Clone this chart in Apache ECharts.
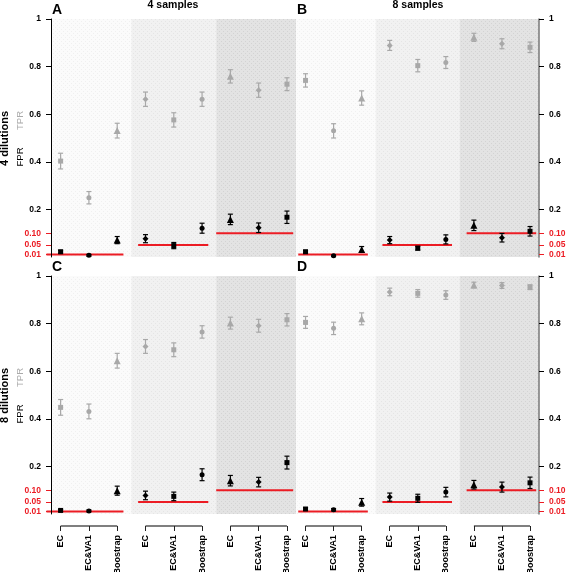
<!DOCTYPE html>
<html><head><meta charset="utf-8">
<script src="https://cdn.jsdelivr.net/npm/echarts@6/dist/echarts.min.js"></script>
<style>html,body{margin:0;padding:0;background:#fff}#c{width:567px;height:572px}</style>
</head><body><div id="c"></div>
<script>
// ---------- data ----------
const methods = ['EC', 'EC&VA1', 'Boostrap'];
const fdrLevels = [0.01, 0.05, 0.10];
const panelLetters = ['A', 'B', 'C', 'D'];
const sampleTitles = ['4 samples', '8 samples'];
const dilutionTitles = ['4 dilutions', '8 dilutions'];
const yTicksBlack = [0.2, 0.4, 0.6, 0.8, 1];
const yTicksRed = [0.01, 0.05, 0.10];
const markerShapes = ['rect', 'circle', 'triangle', 'diamond', 'rect', 'circle', 'triangle', 'diamond', 'rect'];

// Panel A: 4 dilutions, 4 samples
const tprA    = [0.403, 0.249, 0.531, 0.663, 0.576, 0.663, 0.759, 0.701, 0.726];
const tprErrA = [0.033, 0.026, 0.031, 0.030, 0.030, 0.030, 0.028, 0.030, 0.027];
const fprA    = [0.022, 0.007, 0.071, 0.077, 0.048, 0.121, 0.158, 0.123, 0.167];
const fprErrA = [0.006, 0.004, 0.015, 0.017, 0.013, 0.021, 0.022, 0.020, 0.026];
// Panel B: 4 dilutions, 8 samples
const tprB    = [0.742, 0.530, 0.668, 0.889, 0.804, 0.817, 0.923, 0.896, 0.881];
const tprErrB = [0.028, 0.030, 0.030, 0.021, 0.026, 0.025, 0.017, 0.021, 0.022];
const fprB    = [0.022, 0.005, 0.032, 0.071, 0.037, 0.074, 0.133, 0.081, 0.108];
const fprErrB = [0.006, 0.003, 0.012, 0.015, 0.008, 0.019, 0.022, 0.018, 0.020];
// Panel C: 8 dilutions, 4 samples
const tprC    = [0.448, 0.431, 0.644, 0.704, 0.690, 0.765, 0.802, 0.791, 0.816];
const tprErrC = [0.033, 0.031, 0.031, 0.029, 0.029, 0.026, 0.025, 0.027, 0.026];
const fprC    = [0.015, 0.013, 0.098, 0.078, 0.074, 0.165, 0.140, 0.134, 0.216];
const fprErrC = [0.004, 0.004, 0.019, 0.018, 0.018, 0.025, 0.022, 0.020, 0.027];
// Panel D: 8 dilutions, 8 samples
const tprD    = [0.805, 0.780, 0.820, 0.933, 0.927, 0.920, 0.962, 0.960, 0.953];
const tprErrD = [0.025, 0.026, 0.025, 0.016, 0.016, 0.018, 0.012, 0.012, 0.010];
const fprD    = [0.021, 0.018, 0.049, 0.071, 0.066, 0.092, 0.123, 0.113, 0.131];
const fprErrD = [0.006, 0.005, 0.016, 0.017, 0.017, 0.020, 0.018, 0.021, 0.024];

const panels = [
  { tpr: tprA, tprErr: tprErrA, fpr: fprA, fprErr: fprErrA },
  { tpr: tprB, tprErr: tprErrB, fpr: fprB, fprErr: fprErrB },
  { tpr: tprC, tprErr: tprErrC, fpr: fprC, fprErr: fprErrC },
  { tpr: tprD, tprErr: tprErrD, fpr: fprD, fprErr: fprErrD }
];

// ---------- layout / style ----------
const FONT = '"Liberation Sans", Arial, Helvetica, sans-serif';
const XMIN = 0.66, XMAX = 9.32;
const gridBoxes = [
  { left: 51, top: 19, width: 245, height: 238 },
  { left: 296, top: 19, width: 243, height: 238 },
  { left: 51, top: 276, width: 245, height: 238 },
  { left: 296, top: 276, width: 243, height: 238 }
];
const grids = gridBoxes.map(b => Object.assign({ containLabel: false, outerBoundsMode: 'none' }, b));
const RED = '#ec1c24';
const TPR_COLOR = '#a8a8a8';
const symSize = { rect: 5, circle: 5, triangle: 7, diamond: 6 };
const AXIS_GAP = 12;

function makePattern(base, dot) {
  const c = document.createElement('canvas');
  c.width = 4; c.height = 4;
  const ctx = c.getContext('2d');
  ctx.fillStyle = base; ctx.fillRect(0, 0, 4, 4);
  ctx.fillStyle = dot; ctx.fillRect(1, 1, 1, 1); ctx.fillRect(3, 3, 1, 1);
  return { image: c, repeat: 'repeat' };
}
const bandColors = [
  makePattern('#fbfbfb', '#f0f0f0'),
  makePattern('#f1f1f1', '#e5e5e5'),
  makePattern('#e3e3e3', '#d3d3d3')
];

const catX = methods.length * fdrLevels.length;
const catValues = Array.from({ length: catX }, (_, i) => i + 1);

const xAxes = [], yAxes = [], series = [];

grids.forEach((g, pi) => {
  const bottomRow = pi >= 2;
  const side = pi % 2 === 0 ? 'left' : 'right';
  xAxes.push({
    type: 'value', gridIndex: pi, min: XMIN, max: XMAX, show: bottomRow, z: 10,
    position: 'bottom', offset: AXIS_GAP,
    axisLine: { show: false, onZero: false },
    splitLine: { show: false },
    axisTick: { show: bottomRow, customValues: catValues, length: 5, lineStyle: { color: '#222', width: 1 } },
    axisLabel: {
      show: bottomRow, customValues: catValues, rotate: 90, margin: 9,
      fontFamily: FONT, fontSize: 9, fontWeight: 'bold', color: '#000',
      formatter: v => methods[(Math.round(v) - 1) % methods.length]
    }
  });
  yAxes.push({
    type: 'value', gridIndex: pi, position: side, min: 0, max: 1, z: 10,
    axisLine: { show: true, onZero: false, lineStyle: { color: side === 'left' ? '#000' : '#777', width: side === 'left' ? 1 : 1.5 } },
    splitLine: { show: false },
    axisTick: { show: true, customValues: yTicksBlack, length: 5, lineStyle: { color: '#000' } },
    axisLabel: {
      customValues: yTicksBlack, margin: 10, fontFamily: FONT, fontSize: 8.5, fontWeight: 'bold', color: '#000',
      formatter: v => String(+(+v).toFixed(1))
    }
  });
  yAxes.push({
    type: 'value', gridIndex: pi, position: side, min: 0, max: 1, z: 10,
    axisLine: { show: false, onZero: false },
    splitLine: { show: false },
    axisTick: { show: true, customValues: yTicksRed, length: 5, lineStyle: { color: RED } },
    axisLabel: {
      customValues: yTicksRed, margin: 10, fontFamily: FONT, fontSize: 8.5, fontWeight: 'bold', color: RED,
      formatter: v => (+v).toFixed(2)
    }
  });

  const p = panels[pi];
  const yIdx = pi * 2;
  const bandEdges = [XMIN, 3.5, 6.5, XMAX];

  // TPR markers (with background bands)
  series.push({
    type: 'scatter', xAxisIndex: pi, yAxisIndex: yIdx, z: 5, silent: true,
    itemStyle: { color: TPR_COLOR, opacity: 1 },
    data: p.tpr.map((v, i) => ({ value: [i + 1, v], symbol: markerShapes[i], symbolSize: symSize[markerShapes[i]] })),
    markArea: {
      silent: true,
      data: fdrLevels.map((_, gi) => [
        { xAxis: bandEdges[gi], itemStyle: { color: bandColors[gi], opacity: 1 } },
        { xAxis: bandEdges[gi + 1] }
      ])
    }
  });
  // FPR markers
  series.push({
    type: 'scatter', xAxisIndex: pi, yAxisIndex: yIdx, z: 6, silent: true,
    itemStyle: { color: '#000', opacity: 1 },
    data: p.fpr.map((v, i) => ({ value: [i + 1, v], symbol: markerShapes[i], symbolSize: symSize[markerShapes[i]] }))
  });
  // error bars
  const errBar = (vals, errs, color, z) => ({
    type: 'custom', xAxisIndex: pi, yAxisIndex: yIdx, z: z, silent: true,
    encode: { x: 0, y: 1 },
    data: vals.map((v, i) => [i + 1, v, errs[i]]),
    renderItem: (params, api) => {
      const x = api.value(0), y = api.value(1), e = api.value(2);
      const lo = api.coord([x, y - e]), hi = api.coord([x, y + e]);
      const st = { stroke: color, lineWidth: 1.2 };
      return {
        type: 'group', children: [
          { type: 'line', shape: { x1: lo[0], y1: lo[1], x2: hi[0], y2: hi[1] }, style: st },
          { type: 'line', shape: { x1: lo[0] - 2.5, y1: lo[1], x2: lo[0] + 2.5, y2: lo[1] }, style: st },
          { type: 'line', shape: { x1: hi[0] - 2.5, y1: hi[1], x2: hi[0] + 2.5, y2: hi[1] }, style: st }
        ]
      };
    }
  });
  series.push(errBar(p.tpr, p.tprErr, TPR_COLOR, 4));
  series.push(errBar(p.fpr, p.fprErr, '#000', 5));
  // FDR reference lines (left panels reach from the band edge)
  const leftPanel = pi % 2 === 0;
  series.push({
    type: 'custom', xAxisIndex: pi, yAxisIndex: yIdx, z: 3, silent: true,
    encode: { x: 0, y: 1 },
    data: fdrLevels.map((l, gi) => [gi * 3 + 2, l]),
    renderItem: (params, api) => {
      const c = api.value(0), l = api.value(1), gi = params.dataIndex;
      const startOff = leftPanel && gi !== 1 ? 1.5 : 1.26;
      const a = api.coord([c - startOff, l]), b = api.coord([c + 1.22, l]);
      return { type: 'line', shape: { x1: a[0], y1: a[1], x2: b[0], y2: b[1] }, style: { stroke: RED, lineWidth: 2 } };
    }
  });
  // bottom axis segments per group
  if (bottomRow) {
    series.push({
      type: 'custom', xAxisIndex: pi, yAxisIndex: yIdx, z: 3, silent: true, clip: false,
      encode: { x: 0, y: 1 },
      data: fdrLevels.map((l, gi) => [gi * 3 + 2, 0]),
      renderItem: (params, api) => {
        const c = api.value(0);
        const a = api.coord([c - 1, 0]), b = api.coord([c + 1, 0]);
        return { type: 'line', shape: { x1: a[0], y1: a[1] + AXIS_GAP, x2: b[0], y2: b[1] + AXIS_GAP }, style: { stroke: '#555', lineWidth: 1.5 } };
      }
    });
  }
});

// ---------- text ----------
const graphic = [];
const letterPos = [[52, 10.5], [297, 10.5], [52, 267.5], [297, 267.5]];
panelLetters.forEach((t, i) => graphic.push({
  type: 'text', x: letterPos[i][0], y: letterPos[i][1],
  style: { text: t, font: 'bold 14px ' + FONT, fill: '#000', textAlign: 'left', textVerticalAlign: 'middle' }
}));
[173, 418].forEach((x, i) => graphic.push({
  type: 'text', x: x, y: 5.5,
  style: { text: sampleTitles[i], font: 'bold 10.5px ' + FONT, fill: '#000', textAlign: 'center', textVerticalAlign: 'middle' }
}));
[0, 257].forEach((dy, i) => {
  graphic.push({
    type: 'text', x: 5, y: 138.5 + dy, rotation: Math.PI / 2,
    style: { text: dilutionTitles[i], font: 'bold 11px ' + FONT, fill: '#000', textAlign: 'center', textVerticalAlign: 'middle' }
  });
  graphic.push({
    type: 'text', x: 20, y: 157 + dy, rotation: Math.PI / 2,
    style: { text: 'FPR', font: '9.5px ' + FONT, fill: '#000', textAlign: 'center', textVerticalAlign: 'middle' }
  });
  graphic.push({
    type: 'text', x: 20, y: 120.5 + dy, rotation: Math.PI / 2,
    style: { text: 'TPR', font: '9.5px ' + FONT, fill: '#aaaaaa', textAlign: 'center', textVerticalAlign: 'middle' }
  });
});

const chart = echarts.init(document.getElementById('c'), null, { renderer: 'canvas' });
chart.setOption({
  animation: false,
  backgroundColor: '#fff',
  grid: grids,
  xAxis: xAxes,
  yAxis: yAxes,
  series: series,
  graphic: graphic
});
</script>
</body></html>
